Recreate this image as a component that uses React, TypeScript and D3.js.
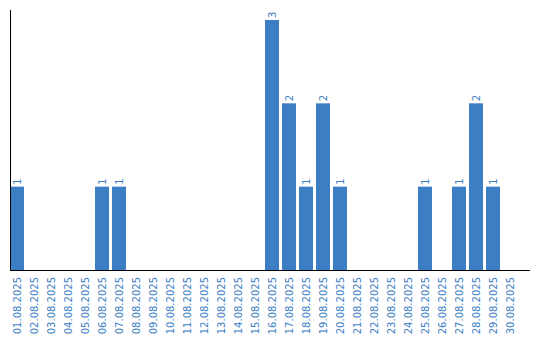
import React from "react";
import * as d3 from "d3";

const categories: string[] = [
  "01.08.2025","02.08.2025","03.08.2025","04.08.2025","05.08.2025",
  "06.08.2025","07.08.2025","08.08.2025","09.08.2025","10.08.2025",
  "11.08.2025","12.08.2025","13.08.2025","14.08.2025","15.08.2025",
  "16.08.2025","17.08.2025","18.08.2025","19.08.2025","20.08.2025",
  "21.08.2025","22.08.2025","23.08.2025","24.08.2025","25.08.2025",
  "26.08.2025","27.08.2025","28.08.2025","29.08.2025","30.08.2025",
];
const values: number[] = [
  1,0,0,0,0,1,1,0,0,0,
  0,0,0,0,0,3,2,1,2,1,
  0,0,0,0,1,0,1,2,1,0,
];

const W = 540;
const H = 340;
const BAR = "#3b7ec3";
const FONT = "'DejaVu Sans', Verdana, sans-serif";

export default function App() {
  const left = 10;
  const step = 17;
  const x = d3
    .scaleBand<string>()
    .domain(categories)
    .range([left, left + categories.length * step - 3])
    .paddingInner(3 / 17)
    .paddingOuter(0);
  const y = d3.scaleLinear().domain([0, 3.12]).range([270, 10]);
  const y0 = y(0);

  return (
    <svg
      width={W}
      height={H}
      style={{ position: "absolute", left: 0, top: 0, display: "block" }}
    >
      <rect x={0} y={0} width={W} height={H} fill="#fff" />
      {categories.map((c, i) => {
        const v = values[i];
        if (!v) return null;
        const bx = x(c)!;
        const top = y(v);
        return (
          <g key={c}>
            <rect x={bx} y={top} width={x.bandwidth()} height={y0 - top} fill={BAR} />
            <text
              transform={`translate(${bx + x.bandwidth() / 2},${top - 2}) rotate(-90)`}
              dy="0.35em"
              fontSize={10}
              fontFamily={FONT}
              fill={BAR}
              textAnchor="start"
            >
              {v}
            </text>
          </g>
        );
      })}
      {categories.map((c) => (
        <text
          key={"l" + c}
          transform={`translate(${x(c)! + x.bandwidth() / 2},${y0 + 7}) rotate(-90)`}
          dy="0.35em"
          fontSize={10}
          fontFamily={FONT}
          fill={BAR}
          textAnchor="end"
        >
          {c}
        </text>
      ))}
      <line x1={10.5} x2={10.5} y1={10} y2={y0} stroke="#000" strokeWidth={1} />
      <line x1={10} x2={530} y1={y0 + 0.5} y2={y0 + 0.5} stroke="#000" strokeWidth={1} />
    </svg>
  );
}
